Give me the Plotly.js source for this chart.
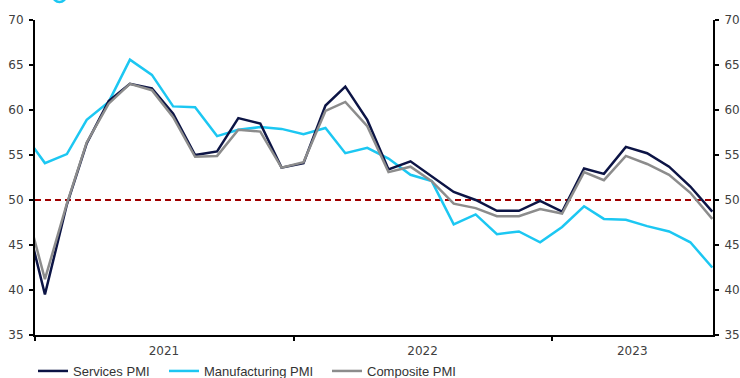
<!DOCTYPE html>
<html>
<head>
<meta charset="utf-8">
<script src="https://cdn.plot.ly/plotly-3.0.1.min.js"></script>
<style>
html,body{margin:0;padding:0;background:#fff;}
#chart{width:740px;height:378px;}
</style>
</head>
<body>
<div id="chart"></div>
<script>
// Monthly dates (mid-month), Dec 2020 to Aug 2023
const months = [
  "2020-12-15",
  "2021-01-15","2021-02-15","2021-03-15","2021-04-15","2021-05-15","2021-06-15",
  "2021-07-15","2021-08-15","2021-09-15","2021-10-15","2021-11-15","2021-12-15",
  "2022-01-15","2022-02-15","2022-03-15","2022-04-15","2022-05-15","2022-06-15",
  "2022-07-15","2022-08-15","2022-09-15","2022-10-15","2022-11-15","2022-12-15",
  "2023-01-15","2023-02-15","2023-03-15","2023-04-15","2023-05-15","2023-06-15",
  "2023-07-15","2023-08-15"
];
const servicesPMI = [
  49.4,
  39.5,49.5,56.3,61.0,62.9,62.4,59.6,55.0,55.4,59.1,58.5,53.6,
  54.1,60.5,62.6,58.9,53.4,54.3,52.6,50.9,50.0,48.8,48.8,49.9,
  48.7,53.5,52.9,55.9,55.2,53.7,51.5,48.7
];
const manufacturingPMI = [
  57.5,
  54.1,55.1,58.9,60.9,65.6,63.9,60.4,60.3,57.1,57.8,58.1,57.9,
  57.3,58.0,55.2,55.8,54.6,52.8,52.1,47.3,48.4,46.2,46.5,45.3,
  47.0,49.3,47.9,47.8,47.1,46.5,45.3,42.5
];
const compositePMI = [
  50.4,
  41.2,49.6,56.4,60.7,62.9,62.2,59.2,54.8,54.9,57.8,57.6,53.6,
  54.2,59.9,60.9,58.2,53.1,53.7,52.1,49.6,49.1,48.2,48.2,49.0,
  48.5,53.1,52.2,54.9,54.0,52.8,50.8,47.9
];
const yearTickVals = ["2021-01-01","2022-01-01","2023-01-01"];
const yearLabelVals = ["2021-07-02","2022-07-02","2023-04-24"];
const yearLabels = ["2021","2022","2023"];
const xRange = ["2021-01-01","2023-08-16"];
const yRange = [35,70];
const threshold = 50;

const tickFont = {family:"DejaVu Sans, Verdana, sans-serif", size:12, color:"#404040"};
const legendFont = {family:"Liberation Sans, Arial, sans-serif", size:13, color:"#333"};

const traces = [
  {x:months, y:manufacturingPMI, name:"Manufacturing PMI", type:"scatter", mode:"lines",
   line:{color:"#1cc7f2", width:2.5}, legend:"legend2"},
  {x:months, y:servicesPMI, name:"Services PMI", type:"scatter", mode:"lines",
   line:{color:"#0c1445", width:2.5}, legend:"legend"},
  {x:months, y:compositePMI, name:"Composite PMI", type:"scatter", mode:"lines", yaxis:"y2",
   line:{color:"#8c8c8c", width:2.5}, legend:"legend3"}
];

function leg(px){
  return {orientation:"h", x:(px-35)/678, xanchor:"left", xref:"paper",
          yref:"container", y:(378-371)/378, yanchor:"middle",
          font:legendFont, bgcolor:"rgba(0,0,0,0)", borderwidth:0};
}

const layout = {
  width:740, height:378,
  margin:{l:35, r:27, t:20, b:43},
  paper_bgcolor:"#fff", plot_bgcolor:"#fff",
  showlegend:true,
  legend:leg(33),
  legend2:leg(164),
  legend3:leg(327),
  xaxis:{type:"date", range:xRange, showgrid:false, zeroline:false,
         showline:true, linecolor:"#000", linewidth:2,
         tickmode:"array", tickvals:yearLabelVals, ticktext:yearLabels,
         ticks:"", tickfont:tickFont, ticklabelstandoff:4,
         minor:{tickmode:"array", tickvals:yearTickVals, ticks:"outside", ticklen:4, tickwidth:2, tickcolor:"#000", showgrid:false}},
  yaxis:{range:yRange, dtick:5, tick0:35, showgrid:false, zeroline:false,
         showline:true, linecolor:"#000", linewidth:2,
         ticks:"outside", ticklen:4, tickwidth:1.5, tickcolor:"#000",
         tickfont:tickFont, ticklabelstandoff:3},
  yaxis2:{range:yRange, dtick:5, tick0:35, overlaying:"y", side:"right", anchor:"x",
         showgrid:false, zeroline:false,
         showline:true, linecolor:"#000", linewidth:2,
         ticks:"outside", ticklen:4, tickwidth:1.5, tickcolor:"#000",
         tickfont:tickFont, ticklabelstandoff:3},
  shapes:[
    {type:"line", xref:"paper", x0:0, x1:1, yref:"y", y0:threshold, y1:threshold, layer:"below",
     line:{color:"#a00000", width:2, dash:"6px,4px"}},
    {type:"circle", xref:"paper", yref:"paper",
     x0:(53-35)/678, x1:(66-35)/678, y0:(335-2)/315, y1:(335+11)/315,
     line:{color:"#1cc7f2", width:2.5}}
  ]
};

Plotly.newPlot("chart", traces, layout, {displayModeBar:false, staticPlot:true});
</script>
</body>
</html>
